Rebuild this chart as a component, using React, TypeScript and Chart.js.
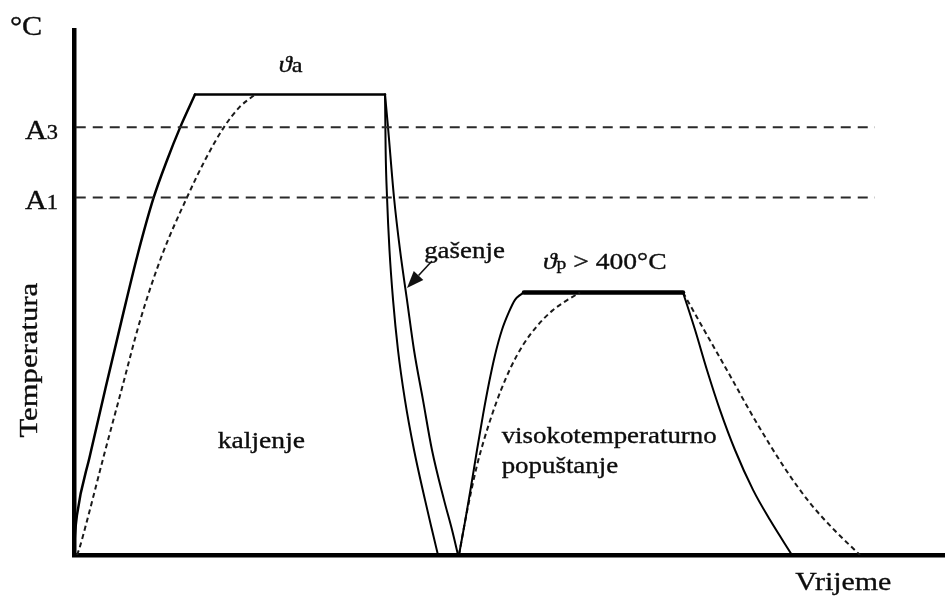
import React, { useEffect, useRef } from "react";
import { Chart, registerables } from "chart.js";

Chart.register(...registerables);

// ---------- axis ranges ----------
const timeRange = [0, 100];
const tempRange = [0, 1000];

// ---------- critical temperatures ----------
const criticalNames = ["A", "A"];
const criticalSubs = ["3", "1"];
const criticalTemps = [815, 681];
const criticalLineTime = [0.2, 91.96];

// ---------- hardening (kaljenje) ----------
const heatSurfaceTime = [0, 0.11, 0.34, 1.84, 3.62, 5.45, 7.29, 9.15, 10.68, 12.2, 13.89];
const heatSurfaceTemp = [0, 38, 76, 190, 318, 446, 571, 681, 752, 815, 877];
const heatCoreTime = [0.34, 0.57, 1.49, 3.44, 5.51, 7.58, 10.1, 12.97, 15.04, 17.22, 19.0, 20.78];
const heatCoreTemp = [0, 10, 65, 190, 318, 446, 571, 681, 752, 815, 853, 877];
const austenitizingTime = [13.89, 35.71];
const austenitizingTemp = [877, 877];
const quenchSurfaceTime = [35.71, 35.78, 35.94, 36.22, 36.63, 37.2, 38.0, 39.04, 40.3, 41.1, 41.79];
const quenchSurfaceTemp = [877, 771, 681, 581, 486, 390, 295, 200, 105, 48, 0];
const quenchCoreTime = [35.71, 36.05, 36.74, 37.43, 38.23, 39.04, 40.07, 41.1, 42.48, 43.4, 44.09];
const quenchCoreTemp = [877, 815, 681, 581, 486, 390, 295, 200, 105, 48, 0];

// ---------- high-temperature tempering (visokotemperaturno popuštanje) ----------
const reheatSurfaceTime = [44.2, 44.89, 45.58, 46.27, 46.96, 47.65, 48.34, 49.14, 49.94, 50.63, 51.2, 51.66];
const reheatSurfaceTemp = [0, 63, 130, 200, 267, 328, 381, 429, 463, 486, 495, 500];
const reheatCoreTime = [44.2, 44.89, 45.58, 46.27, 47.07, 47.99, 49.02, 50.17, 51.55, 53.16, 54.88, 56.49, 58.09];
const reheatCoreTemp = [0, 63, 120, 171, 219, 267, 314, 358, 400, 436, 465, 484, 500];
const temperingTime = [51.66, 69.92];
const temperingTemp = [500, 500];
const coolSurfaceTime = [69.92, 71.3, 72.68, 74.17, 75.89, 77.96, 79.9, 82.43];
const coolSurfaceTemp = [500, 429, 352, 276, 200, 124, 67, 0];
const coolCoreTime = [69.92, 72.33, 74.97, 78.19, 81.74, 84.5, 87.26, 90.24];
const coolCoreTemp = [500, 429, 352, 257, 162, 99, 48, 0];

// ---------- texts ----------
const unitLabel = "°C";
const yAxisLabel = "Temperatura";
const xAxisLabel = "Vrijeme";
const hardeningLabel = "kaljenje";
const quenchLabel = "gašenje";
const temperingLines = ["visokotemperaturno", "popuštanje"];
const thetaSymbol = "ϑ";
const austenitizingSub = "a";
const temperingSub = "p";
const temperingCondition = " > 400°C";

const FONT = '"Liberation Serif", "DejaVu Serif", "Times New Roman", serif';

type Run = { text: string; size: number; italic?: boolean };

function pts(xs: number[], ys: number[]) {
  return xs.map((x, i) => ({ x, y: ys[i] }));
}

function drawRuns(ctx: CanvasRenderingContext2D, runs: Run[], x: number, y: number, hscale: number) {
  ctx.save();
  ctx.translate(x, y);
  ctx.scale(hscale, 1);
  ctx.textAlign = "left";
  ctx.textBaseline = "alphabetic";
  let cx = 0;
  for (const r of runs) {
    ctx.font = `${r.italic ? "italic " : ""}${r.size}px ${FONT}`;
    ctx.fillText(r.text, cx, 0);
    ctx.strokeText(r.text, cx, 0);
    cx += ctx.measureText(r.text).width;
  }
  ctx.restore();
}

const annotationPlugin = {
  id: "heatTreatmentAnnotations",
  afterDatasetsDraw(chart: any) {
    const { ctx, scales } = chart;
    const px = (v: number) => scales.x.getPixelForValue(v);
    const py = (v: number) => scales.y.getPixelForValue(v);
    ctx.save();
    ctx.fillStyle = "#0d0d0d";
    ctx.strokeStyle = "#0d0d0d";
    ctx.lineWidth = 0.35;

    // unit
    drawRuns(ctx, [{ text: unitLabel, size: 27 }], px(-7.35), py(990), 1.12);

    // critical temperature labels
    criticalTemps.forEach((T, i) => {
      drawRuns(
        ctx,
        [
          { text: criticalNames[i], size: 27 },
          { text: criticalSubs[i], size: 20 },
        ],
        px(-5.63),
        py(T) + 12,
        1.12
      );
    });

    // y axis title (rotated)
    ctx.save();
    ctx.translate(px(-4.25), py(371));
    ctx.rotate(-Math.PI / 2);
    ctx.scale(1.18, 1);
    ctx.font = `26px ${FONT}`;
    ctx.textAlign = "center";
    ctx.textBaseline = "alphabetic";
    ctx.fillText(yAxisLabel, 0, 0);
    ctx.strokeText(yAxisLabel, 0, 0);
    ctx.restore();

    // x axis title
    drawRuns(ctx, [{ text: xAxisLabel, size: 26 }], px(82.8), py(-67), 1.15);

    // austenitizing temperature
    drawRuns(
      ctx,
      [
        { text: thetaSymbol, size: 24, italic: true },
        { text: austenitizingSub, size: 22 },
      ],
      px(23.5),
      py(920),
      1.1
    );

    // tempering temperature
    drawRuns(
      ctx,
      [
        { text: thetaSymbol, size: 24, italic: true },
        { text: temperingSub, size: 17 },
        { text: temperingCondition, size: 24 },
      ],
      px(53.85),
      py(545),
      1.15
    );

    // process names
    drawRuns(ctx, [{ text: hardeningLabel, size: 24 }], px(16.5), py(204), 1.15);
    drawRuns(ctx, [{ text: quenchLabel, size: 23 }], px(40.2), py(566), 1.17);
    drawRuns(ctx, [{ text: temperingLines[0], size: 24 }], px(49.1), py(213), 1.12);
    drawRuns(ctx, [{ text: temperingLines[1], size: 24 }], px(49.1), py(156), 1.12);

    // arrow to the quench curve
    const tailX = px(41.1), tailY = py(560);
    const tipX = px(38.23), tipY = py(508.6);
    const ang = Math.atan2(tipY - tailY, tipX - tailX);
    const headLen = 17, headHalf = 6.5;
    const bx = tipX - headLen * Math.cos(ang);
    const by = tipY - headLen * Math.sin(ang);
    ctx.strokeStyle = "#111";
    ctx.fillStyle = "#111";
    ctx.lineWidth = 1.6;
    ctx.beginPath();
    ctx.moveTo(tailX, tailY);
    ctx.lineTo(bx, by);
    ctx.stroke();
    ctx.beginPath();
    ctx.moveTo(tipX, tipY);
    ctx.lineTo(bx + headHalf * Math.sin(ang), by - headHalf * Math.cos(ang));
    ctx.lineTo(bx - headHalf * Math.sin(ang), by + headHalf * Math.cos(ang));
    ctx.closePath();
    ctx.fill();

    ctx.restore();
  },
};

export default function App() {
  const canvasRef = useRef<HTMLCanvasElement | null>(null);

  useEffect(() => {
    if (!canvasRef.current) return;
    const curve = (xs: number[], ys: number[], extra: any = {}) => ({
      data: pts(xs, ys),
      borderColor: "#000",
      borderWidth: 2,
      pointRadius: 0,
      fill: false,
      cubicInterpolationMode: "monotone",
      borderCapStyle: "round",
      borderJoinStyle: "round",
      ...extra,
    });
    const dashedCurve = { borderDash: [5, 3.5], borderWidth: 2, borderColor: "#1a1a1a", borderCapStyle: "butt" };
    const straight = { cubicInterpolationMode: "default", tension: 0 };

    const datasets: any[] = [
      ...criticalTemps.map((T) =>
        curve(criticalLineTime, [T, T], {
          borderColor: "#2a2a2a",
          borderWidth: 2,
          borderDash: [10, 7],
          borderCapStyle: "butt",
          ...straight,
        })
      ),
      curve(heatSurfaceTime, heatSurfaceTemp, { borderWidth: 2.5 }),
      curve(heatCoreTime, heatCoreTemp, dashedCurve),
      curve(austenitizingTime, austenitizingTemp, { borderWidth: 2.5, ...straight }),
      curve(quenchSurfaceTime, quenchSurfaceTemp, { borderWidth: 2 }),
      curve(quenchCoreTime, quenchCoreTemp, { borderWidth: 2 }),
      curve(reheatSurfaceTime, reheatSurfaceTemp, { borderWidth: 2 }),
      curve(reheatCoreTime, reheatCoreTemp, dashedCurve),
      curve(temperingTime, temperingTemp, { borderWidth: 4.5, ...straight }),
      curve(coolSurfaceTime, coolSurfaceTemp, { borderWidth: 2 }),
      curve(coolCoreTime, coolCoreTemp, dashedCurve),
    ];

    const chart = new Chart(canvasRef.current, {
      type: "line",
      data: { datasets },
      options: {
        animation: false,
        responsive: false,
        maintainAspectRatio: false,
        layout: { padding: { left: 74, top: 30, right: 0, bottom: 42 } },
        plugins: { legend: { display: false }, tooltip: { enabled: false }, title: { display: false } },
        events: [],
        scales: {
          x: {
            type: "linear",
            min: timeRange[0],
            max: timeRange[1],
            grid: { display: false, drawTicks: false },
            ticks: { display: false },
            border: { display: true, width: 4.5, color: "#000" },
          },
          y: {
            type: "linear",
            min: tempRange[0],
            max: tempRange[1],
            grid: { display: false, drawTicks: false },
            ticks: { display: false },
            border: { display: true, width: 4.5, color: "#000" },
          },
        },
      } as any,
      plugins: [annotationPlugin],
    });
    return () => chart.destroy();
  }, []);

  return (
    <div style={{ position: "absolute", left: 0, top: 0, width: 945, height: 597, background: "#fff" }}>
      <canvas ref={canvasRef} width={945} height={597} style={{ display: "block" }} />
    </div>
  );
}
